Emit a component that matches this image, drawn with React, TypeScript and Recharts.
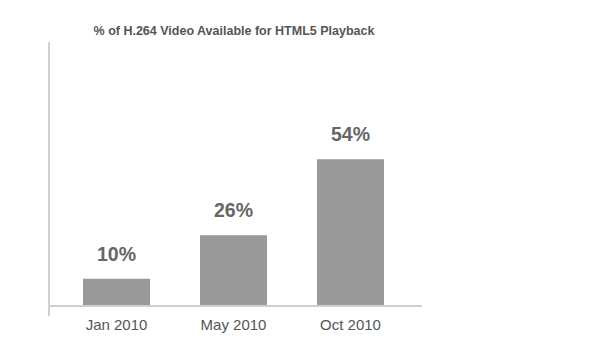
import { Bar, BarChart, LabelList, ReferenceLine, XAxis, YAxis } from "recharts";

const categories = ["Jan 2010", "May 2010", "Oct 2010"];
const share = [10, 26, 54];
const yTicks = [0];

const data = categories.map((label, i) => ({ label, share: share[i] }));

const FONT = '"Liberation Sans", Arial, Helvetica, sans-serif';
const AXIS_COLOR = "#cfcfcf";

export default function App() {
  return (
    <div style={{ position: "absolute", left: 0, top: 0, width: 591, height: 347, background: "#fff", fontFamily: FONT }}>
      <div
        style={{
          position: "absolute",
          left: 0,
          top: 25,
          width: 468,
          textAlign: "center",
          fontSize: 12.5,
          lineHeight: "13px",
          fontWeight: 700,
          color: "#555",
        }}
      >
        % of H.264 Video Available for HTML5 Playback
      </div>
      <BarChart width={591} height={347} data={data} margin={{ top: 42, right: 169, left: 40, bottom: 0 }}>
        <XAxis
          dataKey="label"
          axisLine={false}
          tickLine={false}
          tickSize={0}
          tickMargin={3}
          height={31}
          padding={{ left: 9, right: 13 }}
          tick={{ fontSize: 15, fill: "#555", fontFamily: FONT }}
        />
        <YAxis
          width={9}
          domain={[-3.68, 97.17]}
          allowDataOverflow
          ticks={yTicks}
          tickSize={9}
          tick={false}
          tickLine={{ stroke: AXIS_COLOR, strokeWidth: 2 }}
          axisLine={{ stroke: AXIS_COLOR, strokeWidth: 2 }}
        />
        <ReferenceLine y={0} stroke={AXIS_COLOR} strokeWidth={2} />
        <Bar dataKey="share" fill="#999999" barSize={67} isAnimationActive={false}>
          <LabelList
            dataKey="share"
            position="top"
            offset={18}
            formatter={(v: number) => `${v}%`}
            style={{ fontSize: 19.5, fontWeight: 700, fill: "#666", fontFamily: FONT }}
          />
        </Bar>
      </BarChart>
    </div>
  );
}
